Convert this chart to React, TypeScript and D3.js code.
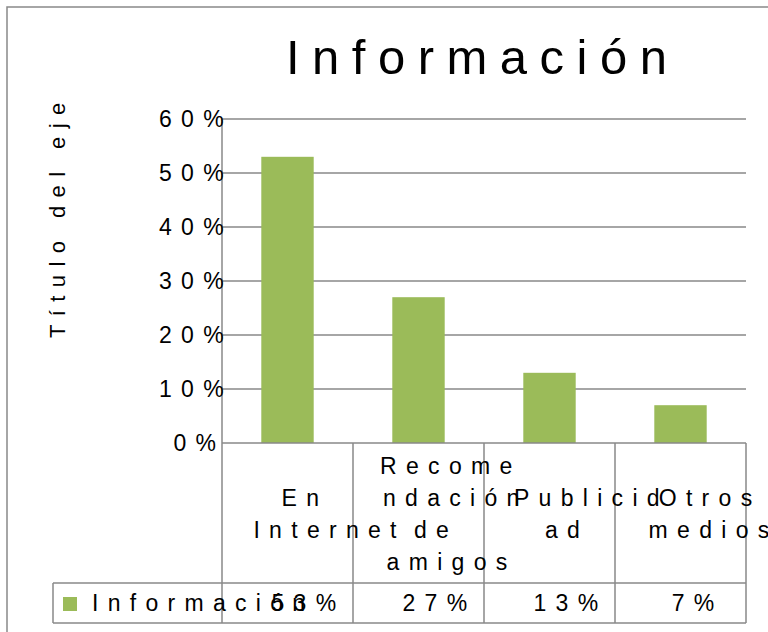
import React, { useMemo } from "react";
import * as d3 from "d3";

// chart data
const categories = ["En Internet", "Recomendación de amigos", "Publicidad", "Otros medios"];
// how the category labels wrap in the data table
const categoryLines = [
  ["En", "Internet"],
  ["Recome", "ndación", "de", "amigos"],
  ["Publicid", "ad"],
  ["Otros", "medios"],
];
const values = [0.53, 0.27, 0.13, 0.07];
const valueLabels = ["53%", "27%", "13%", "7%"];
const yTicks = [0, 0.1, 0.2, 0.3, 0.4, 0.5, 0.6];
const seriesName = "Información";
const chartTitle = "Información";
const axisTitle = "Título del eje";

const FONT = '"Liberation Sans", Arial, sans-serif';
const TEXT_SIZE = 23;
const SPACING = 9.3;
const LAYOUT_SIZE = 26; // text is placed with these metrics, then drawn spaced out
const GREY = "#898989";
const GREEN = "#9BBB59";

let ctx: CanvasRenderingContext2D | null = null;
function layoutWidth(s: string) {
  if (!ctx && typeof document !== "undefined") {
    ctx = document.createElement("canvas").getContext("2d");
  }
  if (!ctx) return s.length * LAYOUT_SIZE * 0.5;
  ctx.font = `${LAYOUT_SIZE}px "Liberation Sans"`;
  return ctx.measureText(s).width;
}

const App = () => {
  const W = 768;
  const H = 632;
  const plot = { left: 222, right: 746, top: 119, bottom: 443 };
  const tableRow1 = 583;
  const tableBottom = 623;
  const legendLeft = 53;

  const x = useMemo(
    () => d3.scaleBand<string>().domain(categories).range([plot.left, plot.right]).padding(0),
    []
  );
  const y = useMemo(() => d3.scaleLinear().domain([0, 0.6]).range([plot.bottom, plot.top]), []);
  const fmt = d3.format(".0%");

  const bw = x.bandwidth();
  const barW = bw / 2.5; // gap width 150%
  const labelShift = 10;
  const lineH = 32;
  const catMid = (plot.bottom + tableRow1) / 2;
  const rowMid = (tableRow1 + tableBottom) / 2;

  const textStyle = { fontFamily: FONT, fontSize: TEXT_SIZE, letterSpacing: SPACING } as const;

  return (
    <svg
      width={W}
      height={H}
      style={{ position: "absolute", left: 0, top: 0, background: "#fff" }}
    >
      {/* chart border */}
      <rect x={7} y={7} width={900} height={800} fill="#fff" stroke={GREY} strokeWidth={1.5} />

      {/* title */}
      <text x={286} y={74} style={{ fontFamily: FONT, fontSize: 49, letterSpacing: 12.5 }} fill="#000">
        {chartTitle}
      </text>

      {/* axis title */}
      <text
        transform={`translate(65,338) rotate(-90)`}
        style={{ fontFamily: FONT, fontSize: 22, letterSpacing: 8.4 }}
        fill="#000"
      >
        {axisTitle}
      </text>

      {/* gridlines */}
      {yTicks.slice(1).map((t) => (
        <line
          key={t}
          x1={plot.left}
          x2={plot.right}
          y1={y(t)}
          y2={y(t)}
          stroke={GREY}
          strokeWidth={1.5}
        />
      ))}

      {/* bars */}
      {categories.map((c, i) => (
        <rect
          key={c}
          x={(x(c) as number) + (bw - barW) / 2}
          y={y(values[i])}
          width={barW}
          height={y(0) - y(values[i])}
          fill={GREEN}
        />
      ))}

      {/* y axis */}
      <line x1={plot.left} x2={plot.left} y1={plot.top} y2={tableBottom} stroke={GREY} strokeWidth={1.5} />
      {yTicks.map((t) => {
        const label = fmt(t);
        return (
          <text key={t} x={211 - layoutWidth(label)} y={y(t) + 8} style={textStyle} fill="#000">
            {label}
          </text>
        );
      })}

      {/* data table */}
      <line x1={plot.left} x2={plot.right} y1={plot.bottom} y2={plot.bottom} stroke={GREY} strokeWidth={1.5} />
      <line x1={legendLeft} x2={plot.right} y1={tableRow1} y2={tableRow1} stroke={GREY} strokeWidth={1.5} />
      <line x1={legendLeft} x2={plot.right} y1={tableBottom} y2={tableBottom} stroke={GREY} strokeWidth={1.5} />
      <line x1={legendLeft} x2={legendLeft} y1={tableRow1} y2={tableBottom} stroke={GREY} strokeWidth={1.5} />
      {categories.map((c) => (
        <line
          key={c}
          x1={(x(c) as number) + bw}
          x2={(x(c) as number) + bw}
          y1={plot.bottom}
          y2={tableBottom}
          stroke={GREY}
          strokeWidth={1.5}
        />
      ))}

      {/* category labels */}
      {categories.map((c, i) => {
        const cx = (x(c) as number) + bw / 2 + labelShift;
        const lines = categoryLines[i];
        return lines.map((ln, j) => (
          <text
            key={c + j}
            x={cx - layoutWidth(ln) / 2}
            y={catMid + (j - (lines.length - 1) / 2) * lineH + 8.5}
            style={textStyle}
            fill="#000"
          >
            {ln}
          </text>
        ));
      })}

      {/* legend key + series name */}
      <rect x={63} y={597} width={14} height={14} fill={GREEN} />
      <text x={92} y={rowMid + 8} style={textStyle} fill="#000">
        {seriesName}
      </text>

      {/* values row */}
      {categories.map((c, i) => {
        const cx = (x(c) as number) + bw / 2 + labelShift;
        return (
          <text
            key={c}
            x={cx - layoutWidth(valueLabels[i]) / 2}
            y={rowMid + 8}
            style={textStyle}
            fill="#000"
          >
            {valueLabels[i]}
          </text>
        );
      })}
    </svg>
  );
};

export default App;
